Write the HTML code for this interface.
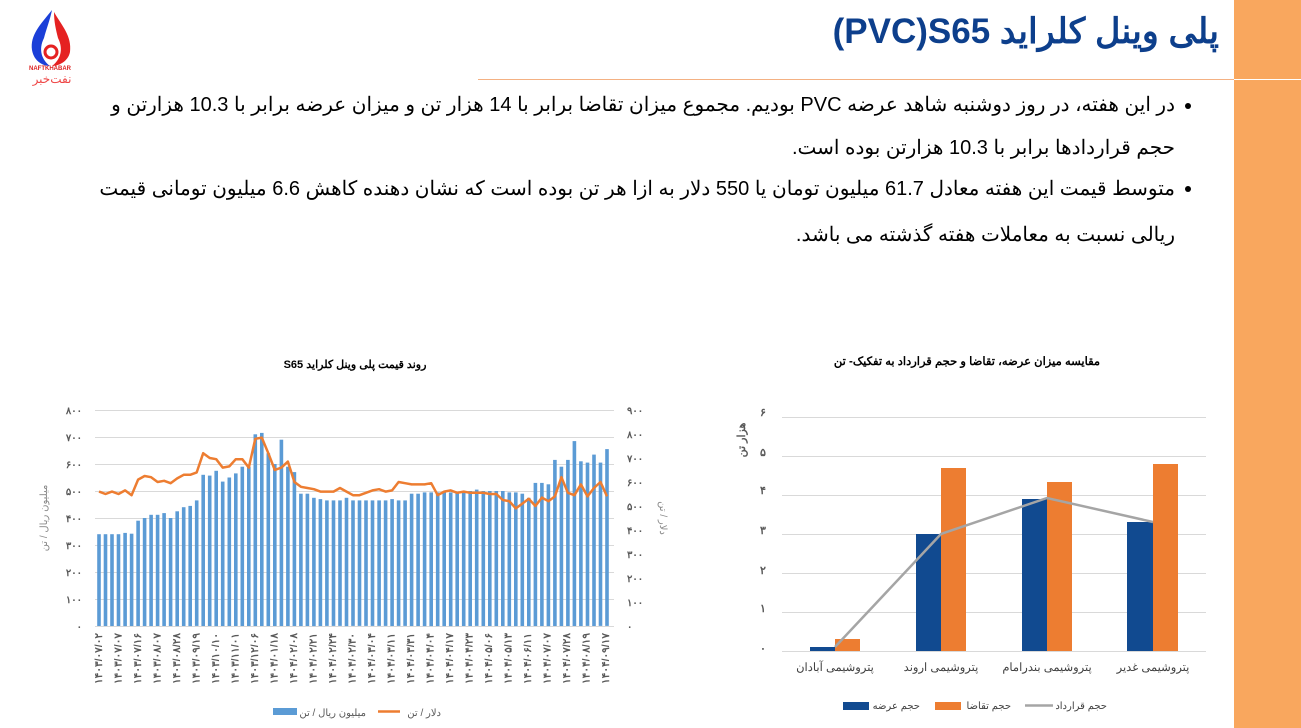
<!DOCTYPE html>
<html><head><meta charset="utf-8"><style>
body{margin:0;width:1301px;height:728px;background:#fff;overflow:hidden;position:relative;font-family:"Liberation Sans","Noto Sans CJK SC",sans-serif}
.band{position:absolute;left:1234px;top:0;width:67px;height:728px;background:#f9a75e}
.bl{position:absolute;left:1234px;top:79px;width:67px;height:1px;background:#fff}
.hl{position:absolute;left:478px;top:79px;width:756px;height:1px;background:#f4b183}
.title{position:absolute;right:82px;top:12px;font-size:35px;font-weight:bold;color:#0d3f8c;direction:rtl;white-space:nowrap}
.t{position:absolute;right:126px;font-size:20px;color:#000;direction:rtl;white-space:nowrap}
.dot{position:absolute;left:1185px;width:6px;height:6px;border-radius:3px;background:#000}
svg{position:absolute;left:0;top:0}
</style></head><body>
<div class="band"></div><div class="bl"></div><div class="hl"></div>
<div class="title">پلی وینل کلراید <span dir="ltr" style="unicode-bidi:isolate">(PVC)S65</span></div>
<div class="dot" style="top:103px"></div>
<div class="t" style="top:92px">در این هفته، در روز دوشنبه شاهد عرضه PVC بودیم. مجموع میزان تقاضا برابر با 14 هزار تن و میزان عرضه برابر  با 10.3 هزارتن و</div>
<div class="t" style="top:135px">حجم قراردادها برابر با 10.3 هزارتن بوده است.</div>
<div class="dot" style="top:186px"></div>
<div class="t" style="top:176px">متوسط قیمت این هفته معادل 61.7 میلیون تومان یا 550 دلار به ازا هر تن بوده است که نشان دهنده کاهش 6.6 میلیون تومانی قیمت</div>
<div class="t" style="top:222px">ریالی نسبت به معاملات هفته گذشته می باشد.</div>

<svg width="1301" height="728" xmlns="http://www.w3.org/2000/svg" font-family="Liberation Sans, Noto Sans CJK SC, sans-serif">
<path d="M52 10 C40 25 30 35 32 50 C34 62 44 66 50 66 C42 60 38 50 44 38 C46 30 50 20 52 10Z" fill="#1b3fd8"/>
<path d="M54 12 C62 26 72 36 70 52 C68 62 58 66 52 66 C60 60 64 50 58 38 C56 30 54 22 54 12Z" fill="#e52222"/>
<circle cx="51" cy="52" r="6" fill="none" stroke="#e52222" stroke-width="3"/>
<text x="50" y="70" font-size="6" font-weight="bold" fill="#d22" text-anchor="middle">NAFTKHABAR</text>
<text x="52" y="83" font-size="12" fill="#e44" text-anchor="middle">نفت‌خبر</text>

<!-- LEFT CHART -->
<text x="355" y="368" font-size="11" font-weight="bold" text-anchor="middle" direction="rtl">روند قیمت پلی وینل کلراید S65</text>
<g stroke="#d9d9d9" stroke-width="1">
<line x1="95" x2="614" y1="410.5" y2="410.5"/><line x1="95" x2="614" y1="437.5" y2="437.5"/><line x1="95" x2="614" y1="464.5" y2="464.5"/><line x1="95" x2="614" y1="491.5" y2="491.5"/><line x1="95" x2="614" y1="518.5" y2="518.5"/><line x1="95" x2="614" y1="545.5" y2="545.5"/><line x1="95" x2="614" y1="572.5" y2="572.5"/><line x1="95" x2="614" y1="599.5" y2="599.5"/><line x1="95" x2="614" y1="626.5" y2="626.5"/>
</g>
<g font-size="10" fill="#595959" text-anchor="end" font-weight="bold">
<text x="82" y="414">۸۰۰</text><text x="82" y="441">۷۰۰</text><text x="82" y="468">۶۰۰</text><text x="82" y="495">۵۰۰</text><text x="82" y="522">۴۰۰</text><text x="82" y="549">۳۰۰</text><text x="82" y="576">۲۰۰</text><text x="82" y="603">۱۰۰</text><text x="82" y="630">۰</text>
</g>
<g font-size="10" fill="#595959" text-anchor="start" font-weight="bold">
<text x="627" y="414">۹۰۰</text><text x="627" y="438">۸۰۰</text><text x="627" y="462">۷۰۰</text><text x="627" y="486">۶۰۰</text><text x="627" y="510">۵۰۰</text><text x="627" y="534">۴۰۰</text><text x="627" y="558">۳۰۰</text><text x="627" y="582">۲۰۰</text><text x="627" y="606">۱۰۰</text><text x="627" y="630">۰</text>
</g>
<text transform="translate(47,518) rotate(-90)" font-size="10" fill="#888" text-anchor="middle">میلیون ریال / تن</text>
<text transform="translate(660,518) rotate(90)" font-size="10" fill="#888" text-anchor="middle">دلار / تن</text>
<g id="bars" fill="#5b9bd5"></g>
<polyline id="ln" fill="none" stroke="#ed7d31" stroke-width="2.5" stroke-linejoin="round"/>
<g id="xl" font-size="10.5" font-weight="bold" fill="#595959" text-anchor="end">
<text transform="translate(102,633) rotate(-90)">۱۴۰۳/۰۷/۰۲</text>
<text transform="translate(121.5,633) rotate(-90)">۱۴۰۳/۰۷/۰۷</text>
<text transform="translate(141,633) rotate(-90)">۱۴۰۳/۰۷/۱۶</text>
<text transform="translate(160.5,633) rotate(-90)">۱۴۰۳/۰۸/۰۷</text>
<text transform="translate(180,633) rotate(-90)">۱۴۰۳/۰۸/۲۸</text>
<text transform="translate(199.5,633) rotate(-90)">۱۴۰۳/۰۹/۱۹</text>
<text transform="translate(219,633) rotate(-90)">۱۴۰۳/۱۰/۱۰</text>
<text transform="translate(238.5,633) rotate(-90)">۱۴۰۳/۱۱/۰۱</text>
<text transform="translate(258,633) rotate(-90)">۱۴۰۳/۱۲/۰۶</text>
<text transform="translate(277.5,633) rotate(-90)">۱۴۰۴/۰۱/۱۸</text>
<text transform="translate(297,633) rotate(-90)">۱۴۰۴/۰۲/۰۸</text>
<text transform="translate(316.5,633) rotate(-90)">۱۴۰۴/۰۲/۲۱</text>
<text transform="translate(336,633) rotate(-90)">۱۴۰۴/۰۲/۲۴</text>
<text transform="translate(355.5,633) rotate(-90)">۱۴۰۴/۰۲/۳۰</text>
<text transform="translate(375,633) rotate(-90)">۱۴۰۴/۰۳/۰۴</text>
<text transform="translate(394.5,633) rotate(-90)">۱۴۰۴/۰۳/۱۱</text>
<text transform="translate(414,633) rotate(-90)">۱۴۰۴/۰۳/۳۱</text>
<text transform="translate(433.5,633) rotate(-90)">۱۴۰۴/۰۴/۰۴</text>
<text transform="translate(453,633) rotate(-90)">۱۴۰۴/۰۴/۱۷</text>
<text transform="translate(472.5,633) rotate(-90)">۱۴۰۴/۰۴/۲۳</text>
<text transform="translate(492,633) rotate(-90)">۱۴۰۴/۰۵/۰۶</text>
<text transform="translate(511.5,633) rotate(-90)">۱۴۰۴/۰۵/۱۳</text>
<text transform="translate(531,633) rotate(-90)">۱۴۰۴/۰۶/۱۱</text>
<text transform="translate(550.5,633) rotate(-90)">۱۴۰۴/۰۷/۰۷</text>
<text transform="translate(570,633) rotate(-90)">۱۴۰۴/۰۷/۲۸</text>
<text transform="translate(589.5,633) rotate(-90)">۱۴۰۴/۰۸/۱۹</text>
<text transform="translate(609,633) rotate(-90)">۱۴۰۴/۰۹/۱۷</text>
</g>
<rect x="273" y="708" width="24" height="7" fill="#5b9bd5"/>
<text x="366" y="716" font-size="10" fill="#595959" text-anchor="end">میلیون ریال / تن</text>
<line x1="378" x2="400" y1="711.5" y2="711.5" stroke="#ed7d31" stroke-width="2.5"/>
<text x="441" y="716" font-size="10" fill="#595959" text-anchor="end">دلار / تن</text>

<!-- RIGHT CHART -->
<text x="967" y="365" font-size="11.5" font-weight="bold" text-anchor="middle" direction="rtl">مقایسه میزان عرضه، تقاضا و حجم قرارداد به تفکیک-  تن</text>
<g stroke="#d9d9d9" stroke-width="1">
<line x1="782" x2="1206" y1="417.5" y2="417.5"/><line x1="782" x2="1206" y1="456.5" y2="456.5"/><line x1="782" x2="1206" y1="495.5" y2="495.5"/><line x1="782" x2="1206" y1="534.5" y2="534.5"/><line x1="782" x2="1206" y1="573.5" y2="573.5"/><line x1="782" x2="1206" y1="612.5" y2="612.5"/><line x1="782" x2="1206" y1="651.5" y2="651.5"/>
</g>
<g font-size="11" fill="#595959" text-anchor="middle" font-weight="bold">
<text x="763" y="416">۶</text><text x="763" y="456">۵</text><text x="763" y="494">۴</text><text x="763" y="534">۳</text><text x="763" y="574">۲</text><text x="763" y="612">۱</text><text x="763" y="652">۰</text>
</g>
<text transform="translate(745,440) rotate(-90)" font-size="11" font-weight="bold" fill="#595959" text-anchor="middle">هزار تن</text>
<g fill="#114a90">
<rect x="810" y="647" width="25" height="4"/><rect x="916" y="534" width="25" height="117"/><rect x="1022" y="499" width="25" height="152"/><rect x="1127" y="522" width="26" height="129"/>
</g>
<g fill="#ed7d31">
<rect x="835" y="639" width="25" height="12"/><rect x="941" y="468" width="25" height="183"/><rect x="1047" y="482" width="25" height="169"/><rect x="1153" y="464" width="25" height="187"/>
</g>
<polyline points="835,647 941,534 1047,498 1153,522" fill="none" stroke="#a5a5a5" stroke-width="2.5"/>
<g font-size="11.5" fill="#404040" text-anchor="middle" direction="rtl">
<text x="835" y="671">پتروشیمی آبادان</text><text x="941" y="671">پتروشیمی اروند</text><text x="1047" y="671">پتروشیمی بندرامام</text><text x="1153" y="671">پتروشیمی غدیر</text>
</g>
<rect x="843" y="702" width="26" height="8" fill="#114a90"/>
<text x="920" y="709" font-size="10" fill="#404040" text-anchor="end">حجم عرضه</text>
<rect x="935" y="702" width="26" height="8" fill="#ed7d31"/>
<text x="1011" y="709" font-size="10" fill="#404040" text-anchor="end">حجم تقاضا</text>
<line x1="1025" x2="1053" y1="705.5" y2="705.5" stroke="#a5a5a5" stroke-width="2.5"/>
<text x="1107" y="709" font-size="10" fill="#404040" text-anchor="end">حجم قرارداد</text>
</svg>
<script>
var b=[340,340,340,340,345,342,390,400,412,412,418,400,425,440,445,465,560,557,575,535,550,565,590,590,710,715,640,600,690,590,570,490,490,475,470,465,465,465,475,465,465,465,465,465,465,470,465,465,490,490,495,495,495,495,495,495,500,500,505,500,500,500,500,495,495,490,475,530,530,525,615,590,615,685,610,605,635,605,655,680,610];
var d=[560,550,560,550,565,545,610,625,620,600,605,595,615,630,630,640,720,700,695,660,665,695,695,660,780,785,720,650,660,685,600,580,575,570,560,560,560,575,560,545,545,555,565,570,560,565,600,595,590,590,590,595,545,560,565,555,560,555,555,555,550,550,525,520,490,510,530,500,535,520,540,620,555,545,590,540,575,600,540];
var n=79,x0=99,x1=607,s=(x1-x0)/(n-1),g=document.getElementById('bars'),ns='http://www.w3.org/2000/svg',p=[];
for(var i=0;i<n;i++){var x=x0+i*s,v=b[i],h=v*216/800;var r=document.createElementNS(ns,'rect');r.setAttribute('x',(x-1.8).toFixed(1));r.setAttribute('y',(626-h).toFixed(1));r.setAttribute('width','3.6');r.setAttribute('height',h.toFixed(1));g.appendChild(r);p.push(x.toFixed(1)+','+(626-d[i]*216/900).toFixed(1));}
document.getElementById('ln').setAttribute('points',p.join(' '));
</script>
</body></html>
